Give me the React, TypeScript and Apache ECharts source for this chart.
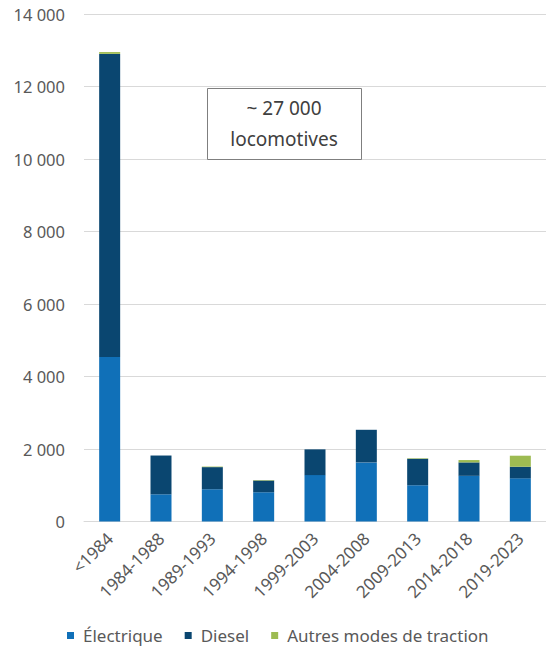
import React, { useEffect, useRef } from "react";
import * as echarts from "echarts";

const categories = ["<1984", "1984-1988", "1989-1993", "1994-1998", "1999-2003", "2004-2008", "2009-2013", "2014-2018", "2019-2023"];
const electrique = [4540, 750, 890, 810, 1280, 1630, 1000, 1260, 1190];
const diesel = [8360, 1070, 610, 320, 710, 900, 730, 370, 320];
const autres = [50, 0, 15, 15, 0, 0, 15, 65, 305];
const seriesNames = ["Électrique", "Diesel", "Autres modes de traction"];
const colors = ["#1070B8", "#0A4670", "#9DBB52"];
const boxLines = ["~ 27 000", "locomotives"];

const fmt = (v: number) => {
  const s = String(Math.round(v));
  return s.replace(/\B(?=(\d{3})+(?!\d))/g, " ");
};

export default function App() {
  const ref = useRef<HTMLDivElement>(null);
  useEffect(() => {
    if (!ref.current) return;
    const chart = echarts.init(ref.current, null, { renderer: "svg" });
    const font = "'Noto Sans', 'Open Sans', sans-serif";
    const data = [electrique, diesel, autres];
    chart.setOption({
      animation: false,
      textStyle: { fontFamily: font },
      grid: { left: 84, top: 14, width: 465, bottom: 135.5, containLabel: false },
      legend: {
        bottom: 8,
        left: 62,
        itemWidth: 7,
        itemHeight: 7,
        itemGap: 22,
        icon: "rect",
        textStyle: { fontSize: 17, color: "#595959", fontFamily: font, padding: [0, 0, 0, 4] },
        data: seriesNames,
      },
      xAxis: {
        type: "category",
        data: categories,
        axisLine: { lineStyle: { color: "#D9D9D9" } },
        axisTick: { show: false },
        axisLabel: { rotate: 45, fontSize: 17, color: "#595959", margin: 14, interval: 0, fontFamily: font },
      },
      yAxis: {
        type: "value",
        min: 0,
        max: 14000,
        interval: 2000,
        axisLine: { show: false },
        axisTick: { show: false },
        splitLine: { lineStyle: { color: "#D9D9D9" } },
        axisLabel: { fontSize: 16.5, color: "#595959", margin: 19, formatter: fmt, fontFamily: font },
      },
      series: seriesNames.map((name, i) => ({
        name,
        type: "bar",
        stack: "total",
        barWidth: 21,
        itemStyle: { color: colors[i] },
        data: data[i],
      })),
      graphic: [
        {
          type: "rect",
          left: 207,
          top: 88,
          shape: { width: 154, height: 71 },
          style: { fill: "#fff", stroke: "#7F7F7F", lineWidth: 1 },
          z: 100,
        },
        {
          type: "text",
          x: 284,
          y: 108,
          style: { text: boxLines[0], fontSize: 19, fill: "#404040", align: "center", verticalAlign: "middle", fontFamily: font },
          z: 101,
        },
        {
          type: "text",
          x: 284,
          y: 139,
          style: { text: boxLines[1], fontSize: 19, fill: "#404040", align: "center", verticalAlign: "middle", fontFamily: font },
          z: 101,
        },
      ],
    });
    return () => chart.dispose();
  }, []);
  return <div ref={ref} style={{ position: "absolute", left: 0, top: 0, width: 546, height: 657, background: "#fff" }} />;
}
